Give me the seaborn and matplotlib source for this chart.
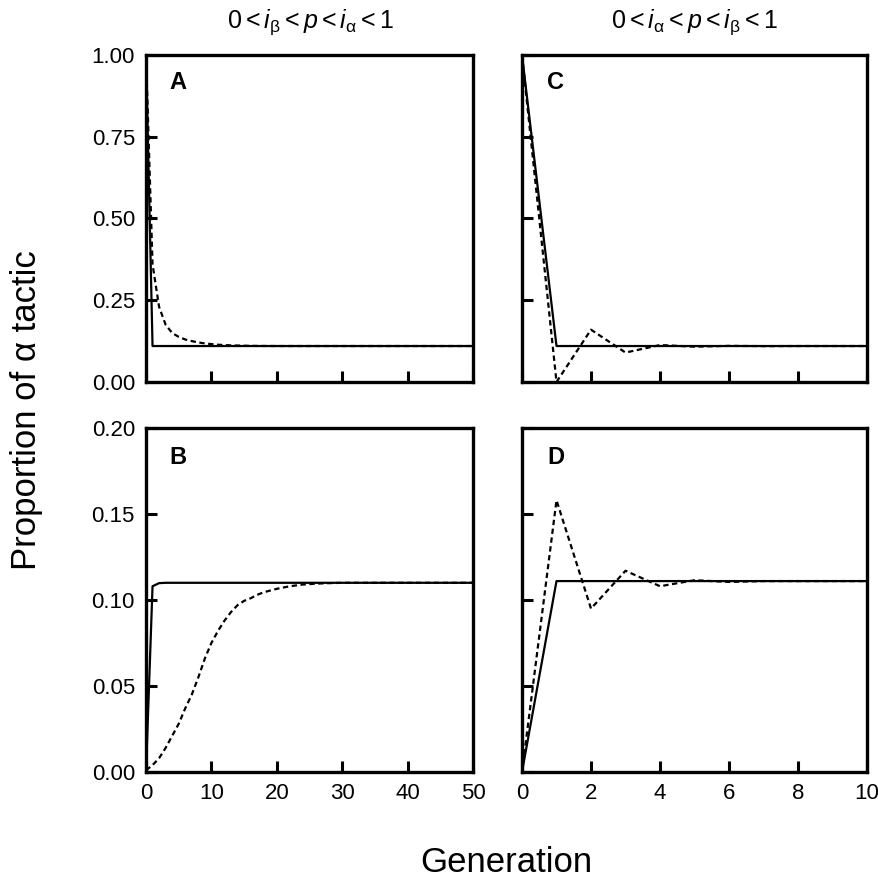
import matplotlib
matplotlib.use("Agg")
import matplotlib.pyplot as plt
import seaborn as sns
import pandas as pd

sns.set_theme(style="ticks")
plt.rcParams['font.family'] = ['Liberation Sans', 'DejaVu Sans']
plt.rcParams['text.color'] = 'black'
plt.rcParams['mathtext.fontset'] = 'custom'
plt.rcParams['mathtext.rm'] = 'Liberation Sans'
plt.rcParams['mathtext.it'] = 'Liberation Sans:italic'

# -------------------------------------------------------------------
# Data
# -------------------------------------------------------------------
# long runs (panels A and B), generations 0..50
gen_long = [0, 1, 2, 3, 4, 5, 6, 7, 8, 9, 10, 11, 12, 13, 14, 15, 16, 17,
            18, 19, 20, 22, 24, 26, 28, 30, 40, 50]

a_solid = [1.0, 0.11, 0.11, 0.11, 0.11, 0.11, 0.11, 0.11, 0.11, 0.11, 0.11,
           0.11, 0.11, 0.11, 0.11, 0.11, 0.11, 0.11, 0.11, 0.11, 0.11, 0.11,
           0.11, 0.11, 0.11, 0.11, 0.11, 0.11]
a_dashed = [1.0, 0.36, 0.23, 0.175, 0.15, 0.138, 0.13, 0.125, 0.121, 0.118,
            0.116, 0.114, 0.113, 0.112, 0.1115, 0.111, 0.1105, 0.1103,
            0.1102, 0.1101, 0.11, 0.11, 0.11, 0.11, 0.11, 0.11, 0.11, 0.11]

b_solid = [0.0, 0.108, 0.1098, 0.11, 0.11, 0.11, 0.11, 0.11, 0.11, 0.11,
           0.11, 0.11, 0.11, 0.11, 0.11, 0.11, 0.11, 0.11, 0.11, 0.11, 0.11,
           0.11, 0.11, 0.11, 0.11, 0.11, 0.11, 0.11]
b_dashed = [0.001, 0.004, 0.008, 0.014, 0.021, 0.028, 0.037, 0.045, 0.055,
            0.066, 0.075, 0.082, 0.088, 0.093, 0.097, 0.0995, 0.101, 0.103,
            0.1045, 0.1055, 0.1065, 0.108, 0.109, 0.1095, 0.1098, 0.11, 0.11,
            0.11]

# short runs (panels C and D), generations 0..10
gen_short = [0, 1, 2, 3, 4, 5, 6, 7, 8, 9, 10]

c_solid = [1.0, 0.11, 0.11, 0.11, 0.11, 0.11, 0.11, 0.11, 0.11, 0.11, 0.11]
c_dashed = [1.0, 0.0, 0.16, 0.09, 0.113, 0.108, 0.1105, 0.1097, 0.11, 0.11, 0.11]

d_solid = [0.0, 0.111, 0.111, 0.111, 0.111, 0.111, 0.111, 0.111, 0.111, 0.111, 0.111]
d_dashed = [0.0, 0.158, 0.095, 0.117, 0.108, 0.1115, 0.1105, 0.111, 0.111, 0.111, 0.111]

titles = [r"$0 < i_{\mathrm{\beta}} < p < i_{\mathrm{\alpha}} < 1$",
          r"$0 < i_{\mathrm{\alpha}} < p < i_{\mathrm{\beta}} < 1$"]

# -------------------------------------------------------------------
# Figure layout
# -------------------------------------------------------------------
W, H = 879, 880
fig = plt.figure(figsize=(W / 100, H / 100), dpi=100)
gs = fig.add_gridspec(2, 2, left=146 / W, right=867 / W, top=1 - 55 / H,
                      bottom=1 - 772 / H, width_ratios=[327, 345],
                      height_ratios=[327, 344], wspace=49 / 336, hspace=46 / 335.5)

panels = [
    ("A", 0, 0, gen_long, a_solid, a_dashed, (0, 50), (0, 1.0)),
    ("B", 1, 0, gen_long, b_solid, b_dashed, (0, 50), (0, 0.2)),
    ("C", 0, 1, gen_short, c_solid, c_dashed, (0, 10), (0, 1.0)),
    ("D", 1, 1, gen_short, d_solid, d_dashed, (0, 10), (0, 0.2)),
]

for letter, r, c, gens, solid, dashed, xlim, ylim in panels:
    ax = fig.add_subplot(gs[r, c])
    df = pd.DataFrame({"gen": gens, "solid": solid, "dashed": dashed})
    sns.lineplot(data=df, x="gen", y="solid", color="black", lw=1.6, ax=ax)
    sns.lineplot(data=df, x="gen", y="dashed", color="black", lw=1.6,
                 dashes=False, ax=ax)
    ax.lines[-1].set_dashes((2.4, 1.6))

    ax.set_xlim(*xlim)
    ax.set_ylim(*ylim)
    ax.set_xlabel("")
    ax.set_ylabel("")

    if xlim[1] == 50:
        ax.set_xticks([0, 10, 20, 30, 40, 50])
    else:
        ax.set_xticks([0, 2, 4, 6, 8, 10])
    if ylim[1] == 1.0:
        ax.set_yticks([0, 0.25, 0.5, 0.75, 1.0])
        ax.set_yticklabels(["0.00", "0.25", "0.50", "0.75", "1.00"])
    else:
        ax.set_yticks([0, 0.05, 0.1, 0.15, 0.2])
        ax.set_yticklabels(["0.00", "0.05", "0.10", "0.15", "0.20"])

    ax.tick_params(direction="in", length=8, width=2.2, labelsize=16,
                   colors="black", pad=8)
    if r == 0:
        ax.tick_params(labelbottom=False)
    if c == 1:
        ax.tick_params(labelleft=False)

    for sp in ax.spines.values():
        sp.set_visible(True)
        sp.set_linewidth(2.4)
        sp.set_color("black")

    ax.text(32 / 327, 1 - 28 / 330, letter, transform=ax.transAxes,
            fontsize=17, fontweight="bold", ha="center", va="center")

fig.text(310 / W, 1 - 22 / H, titles[0], fontsize=18, ha="center", va="center")
fig.text(694 / W, 1 - 22 / H, titles[1], fontsize=18, ha="center", va="center")

fig.text(27 / W, 1 - 410 / H, "Proportion of α tactic", rotation=90,
         fontsize=25, ha="center", va="center")
fig.text(506 / W, 1 - 862 / H, "Generation", fontsize=25,
         ha="center", va="center")

plt.savefig("out.png", dpi=100)
